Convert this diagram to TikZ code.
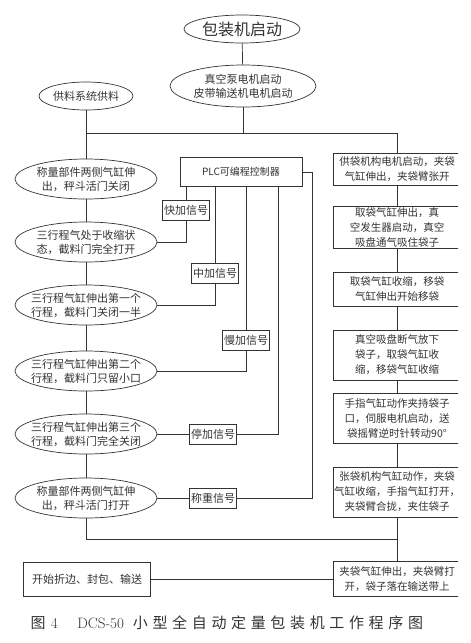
\documentclass[tikz,border=0pt]{standalone}
\usepackage{fontspec}
\newfontfamily\cjk{Noto Sans CJK SC}
\newfontfamily\cjkcap[LetterSpace=31]{Noto Sans CJK SC}
\usetikzlibrary{shapes.geometric}
\begin{document}
\begin{tikzpicture}[x=1pt, y=-1pt, line width=.7pt, color=black!80,
  oval node/.style={ellipse,draw,inner xsep=-15pt,inner ysep=-4pt,align=center,font=\cjk\fontsize{11}{14}\selectfont},
  step node/.style={oval node,minimum width=142pt,minimum height=40pt},
  box node/.style={rectangle,draw,minimum width=128pt,inner sep=0pt,align=center,font=\cjk\fontsize{10.5}{15}\selectfont},
  sig node/.style={rectangle,draw,minimum width=47pt,minimum height=20pt,inner sep=0pt,font=\cjk\fontsize{11}{13}\selectfont}]
\useasboundingbox (0,0) rectangle (471,643);
\node [oval node,minimum width=116pt,minimum height=28pt,font=\cjk\fontsize{16}{18}\selectfont](start) at (242,29) {包装机启动};
\node [oval node,minimum width=146pt,minimum height=42pt](pump) at (243,86) {真空泵电机启动\\皮带输送机电机启动};
\node [oval node,minimum width=94pt,minimum height=28pt](feed) at (86,96) {供料系统供料};
% weighing side
\node [step node](weighshut) at (86,179) {称量部件两侧气缸伸\\出，秤斗活门关闭};
\node [step node](gateopen) at (86,242) {三行程气处于收缩状\\态，截料门完全打开};
\node [step node](stroke1) at (86,305) {三行程气缸伸出第一个\\行程，截料门关闭一半};
\node [step node](stroke2) at (86,371) {三行程气缸伸出第二个\\行程，截料门只留小口};
\node [step node](stroke3) at (86,434) {三行程气缸伸出第三个\\行程，截料门完全关闭};
\node [step node](weighopen) at (86,498) {称量部件两侧气缸伸\\出，秤斗活门打开};
\node [rectangle,draw,minimum width=127pt,minimum height=34pt,font=\cjk\fontsize{11}{13}\selectfont](fold) at (87,579) {开始折边、封包、输送};
% controller
\node [rectangle,draw,minimum width=122pt,minimum height=29pt,font=\cjk\fontsize{10}{12}\selectfont](plc) at (241,172) {PLC可编程控制器};
\node [sig node](fast) at (186,210) {快加信号};
\node [sig node](medium) at (215,273) {中加信号};
\node [sig node](slow) at (246,340) {慢加信号};
\node [sig node](halt) at (213,434) {停加信号};
\node [sig node](weight) at (213,498) {称重信号};
% bagging side
\begin{scope}
\clip (0,0) rectangle (458,643);
\node [box node,minimum height=32pt](bag1) at (397,169) {供袋机构电机启动，夹袋\\气缸伸出，夹袋臂张开};
\node [box node,minimum height=42pt](bag2) at (397,227) {取袋气缸伸出，真\\空发生器启动，真空\\吸盘通气吸住袋子};
\node [box node,minimum height=34pt](bag3) at (397,289) {取袋气缸收缩，移袋\\气缸伸出开始移袋};
\node [box node,minimum height=50pt](bag4) at (397,355) {真空吸盘断气放下\\袋子，取袋气缸收\\缩，移袋气缸收缩};
\node [box node,minimum height=50pt](bag5) at (397,418) {手指气缸动作夹持袋子\\口，伺服电机启动，送\\袋摇臂逆时针转动90°};
\node [box node,minimum height=50pt](bag6) at (397,492) {张袋机构气缸动作，夹袋\\气缸收缩，手指气缸打开，\\夹袋臂合拢，夹住袋子};
\node [box node,minimum height=35pt](bag7) at (397,579) {夹袋气缸伸出，夹袋臂打\\开，袋子落在输送带上};
\end{scope}
\coordinate (busL) at (86,133);
\coordinate (busR) at (397,133);
\coordinate (join) at (397,539);
\coordinate (haltturn) at (278,434);
\coordinate (weightturn) at (312,498);
\path
    (start) edge (pump)
    (pump) edge (pump |- busL)
    (busL) edge (busR)
    (busR) edge (bag1)
    (feed) edge (weighshut)
    (weighshut) edge (gateopen)
    (gateopen) edge (stroke1)
    (stroke1) edge (stroke2)
    (stroke2) edge (stroke3)
    (stroke3) edge (weighopen)
    (bag1) edge (bag2)
    (bag2) edge (bag3)
    (bag3) edge (bag4)
    (bag4) edge (bag5)
    (bag5) edge (bag6)
    (bag6) edge (bag7)
    (fold) edge (bag7)
    ;
\draw (plc.south -| fast) -- (fast);
\draw (fast) |- (gateopen.east);
\draw (plc.south -| medium) -- (medium);
\draw (medium) |- (stroke1.east);
\draw (plc.south -| slow) -- (slow);
\draw (slow) |- (stroke2.east);
\draw (plc.south -| haltturn) -- (haltturn) -- (halt);
\draw (halt) -- (stroke3);
\draw (plc.east) -| (weightturn) -- (weight);
\draw (weight) -- (weighopen);
\draw (weighopen) |- (join);
\node [anchor=west,font=\fontsize{15}{18}\selectfont](caption) at (27,623) {\cjk 图\hspace{0.35em}\rmfamily 4\hspace{1.3em}DCS-50\hspace{0.6em}\cjkcap 小型全自动定量包装机工作程序图};
\end{tikzpicture}
\end{document}
